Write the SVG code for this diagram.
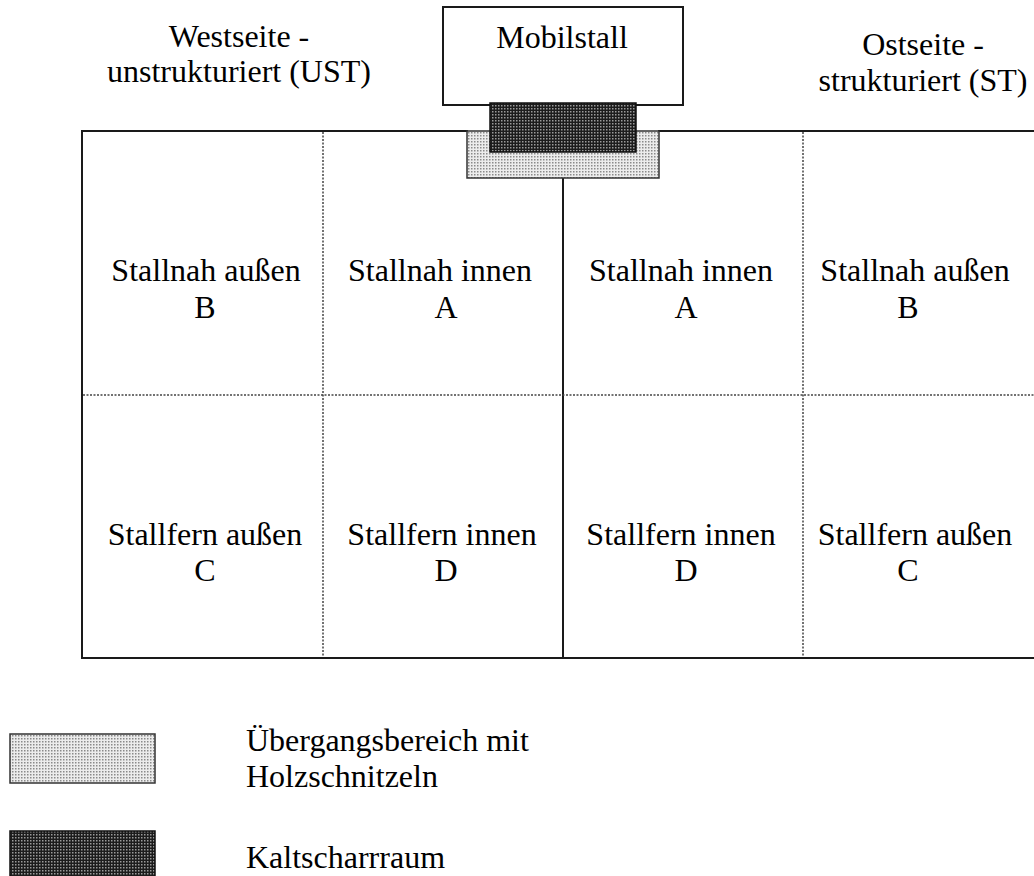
<svg xmlns="http://www.w3.org/2000/svg" width="1034" height="876" viewBox="0 0 1034 876">
  <style>
    text { font-family: 'Liberation Serif', 'Times New Roman', Times, 'DejaVu Serif', serif; font-size: 32px; fill: #000; }
    .c { text-anchor: middle; }
    .solid { stroke: #1a1a1a; stroke-width: 2; fill: none; }
    .dot { stroke: #444; stroke-width: 1.5; stroke-dasharray: 2 1.5; fill: none; }
    .box { fill: #fff; stroke: #1a1a1a; stroke-width: 2; }
  </style>
  <defs>
    <pattern id="light" width="3" height="3" patternUnits="userSpaceOnUse">
      <rect width="3" height="3" fill="#ececec"/>
      <rect width="1.5" height="1.5" fill="#8a8a8a"/>
    </pattern>
    <pattern id="dark" width="3" height="3" patternUnits="userSpaceOnUse">
      <rect width="3" height="3" fill="#1c1c1c"/>
      <rect width="1.5" height="1.5" fill="#9a9a9a"/>
    </pattern>
  </defs>
  <rect width="1034" height="876" fill="#fff"/>

  <g font-family="Liberation Serif, Times New Roman, serif" font-size="32">
  <g id="headings">
    <text class="c" x="239" y="47">Westseite -</text>
    <text class="c" x="239" y="82">unstrukturiert (UST)</text>
    <text class="c" x="923" y="55">Ostseite -</text>
    <text class="c" x="923" y="91">strukturiert (ST)</text>
  </g>

  <g id="mobilstall">
    <rect class="box" x="443" y="7" width="240" height="98"/>
    <text class="c" x="562" y="48">Mobilstall</text>
  </g>

  <g id="connectors">
    <line class="solid" x1="82" y1="131" x2="468" y2="131"/>
    <line class="solid" x1="658" y1="131" x2="1034" y2="131"/>
    <line class="solid" x1="82" y1="130" x2="82" y2="659"/>
    <line class="solid" x1="81" y1="658" x2="1034" y2="658"/>
    <line class="solid" x1="563" y1="178" x2="563" y2="658"/>
    <line class="dot" x1="323" y1="132" x2="323" y2="657"/>
    <line class="dot" x1="803" y1="132" x2="803" y2="657"/>
    <line class="dot" x1="83" y1="395" x2="1034" y2="395"/>
  </g>

  <g id="uebergang">
    <rect x="467" y="131" width="192" height="47" fill="url(#light)" stroke="#333" stroke-width="1.5"/>
  </g>
  <g id="kaltscharrraum">
    <rect x="490" y="103" width="146" height="49" fill="url(#dark)" stroke="#111" stroke-width="1.5"/>
  </g>

  <g id="cell-west-nah-aussen">
    <text class="c" x="206" y="281">Stallnah außen</text>
    <text class="c" x="205" y="318">B</text>
  </g>
  <g id="cell-west-nah-innen">
    <text class="c" x="440" y="281">Stallnah innen</text>
    <text class="c" x="446" y="318">A</text>
  </g>
  <g id="cell-ost-nah-innen">
    <text class="c" x="681" y="281">Stallnah innen</text>
    <text class="c" x="686" y="318">A</text>
  </g>
  <g id="cell-ost-nah-aussen">
    <text class="c" x="915" y="281">Stallnah außen</text>
    <text class="c" x="908" y="318">B</text>
  </g>
  <g id="cell-west-fern-aussen">
    <text class="c" x="205" y="545">Stallfern außen</text>
    <text class="c" x="205" y="581">C</text>
  </g>
  <g id="cell-west-fern-innen">
    <text class="c" x="442" y="545">Stallfern innen</text>
    <text class="c" x="446" y="581">D</text>
  </g>
  <g id="cell-ost-fern-innen">
    <text class="c" x="681" y="545">Stallfern innen</text>
    <text class="c" x="686" y="581">D</text>
  </g>
  <g id="cell-ost-fern-aussen">
    <text class="c" x="915" y="545">Stallfern außen</text>
    <text class="c" x="908" y="581">C</text>
  </g>

  <g id="legend-uebergang">
    <rect x="10" y="734" width="145" height="49" fill="url(#light)" stroke="#333" stroke-width="1.5"/>
    <text x="246" y="751">Übergangsbereich mit</text>
    <text x="246" y="787">Holzschnitzeln</text>
  </g>
  <g id="legend-kaltscharrraum">
    <rect x="10" y="831" width="145" height="49" fill="url(#dark)" stroke="#111" stroke-width="1.5"/>
    <text x="246" y="868">Kaltscharrraum</text>
  </g>
  </g>
</svg>
